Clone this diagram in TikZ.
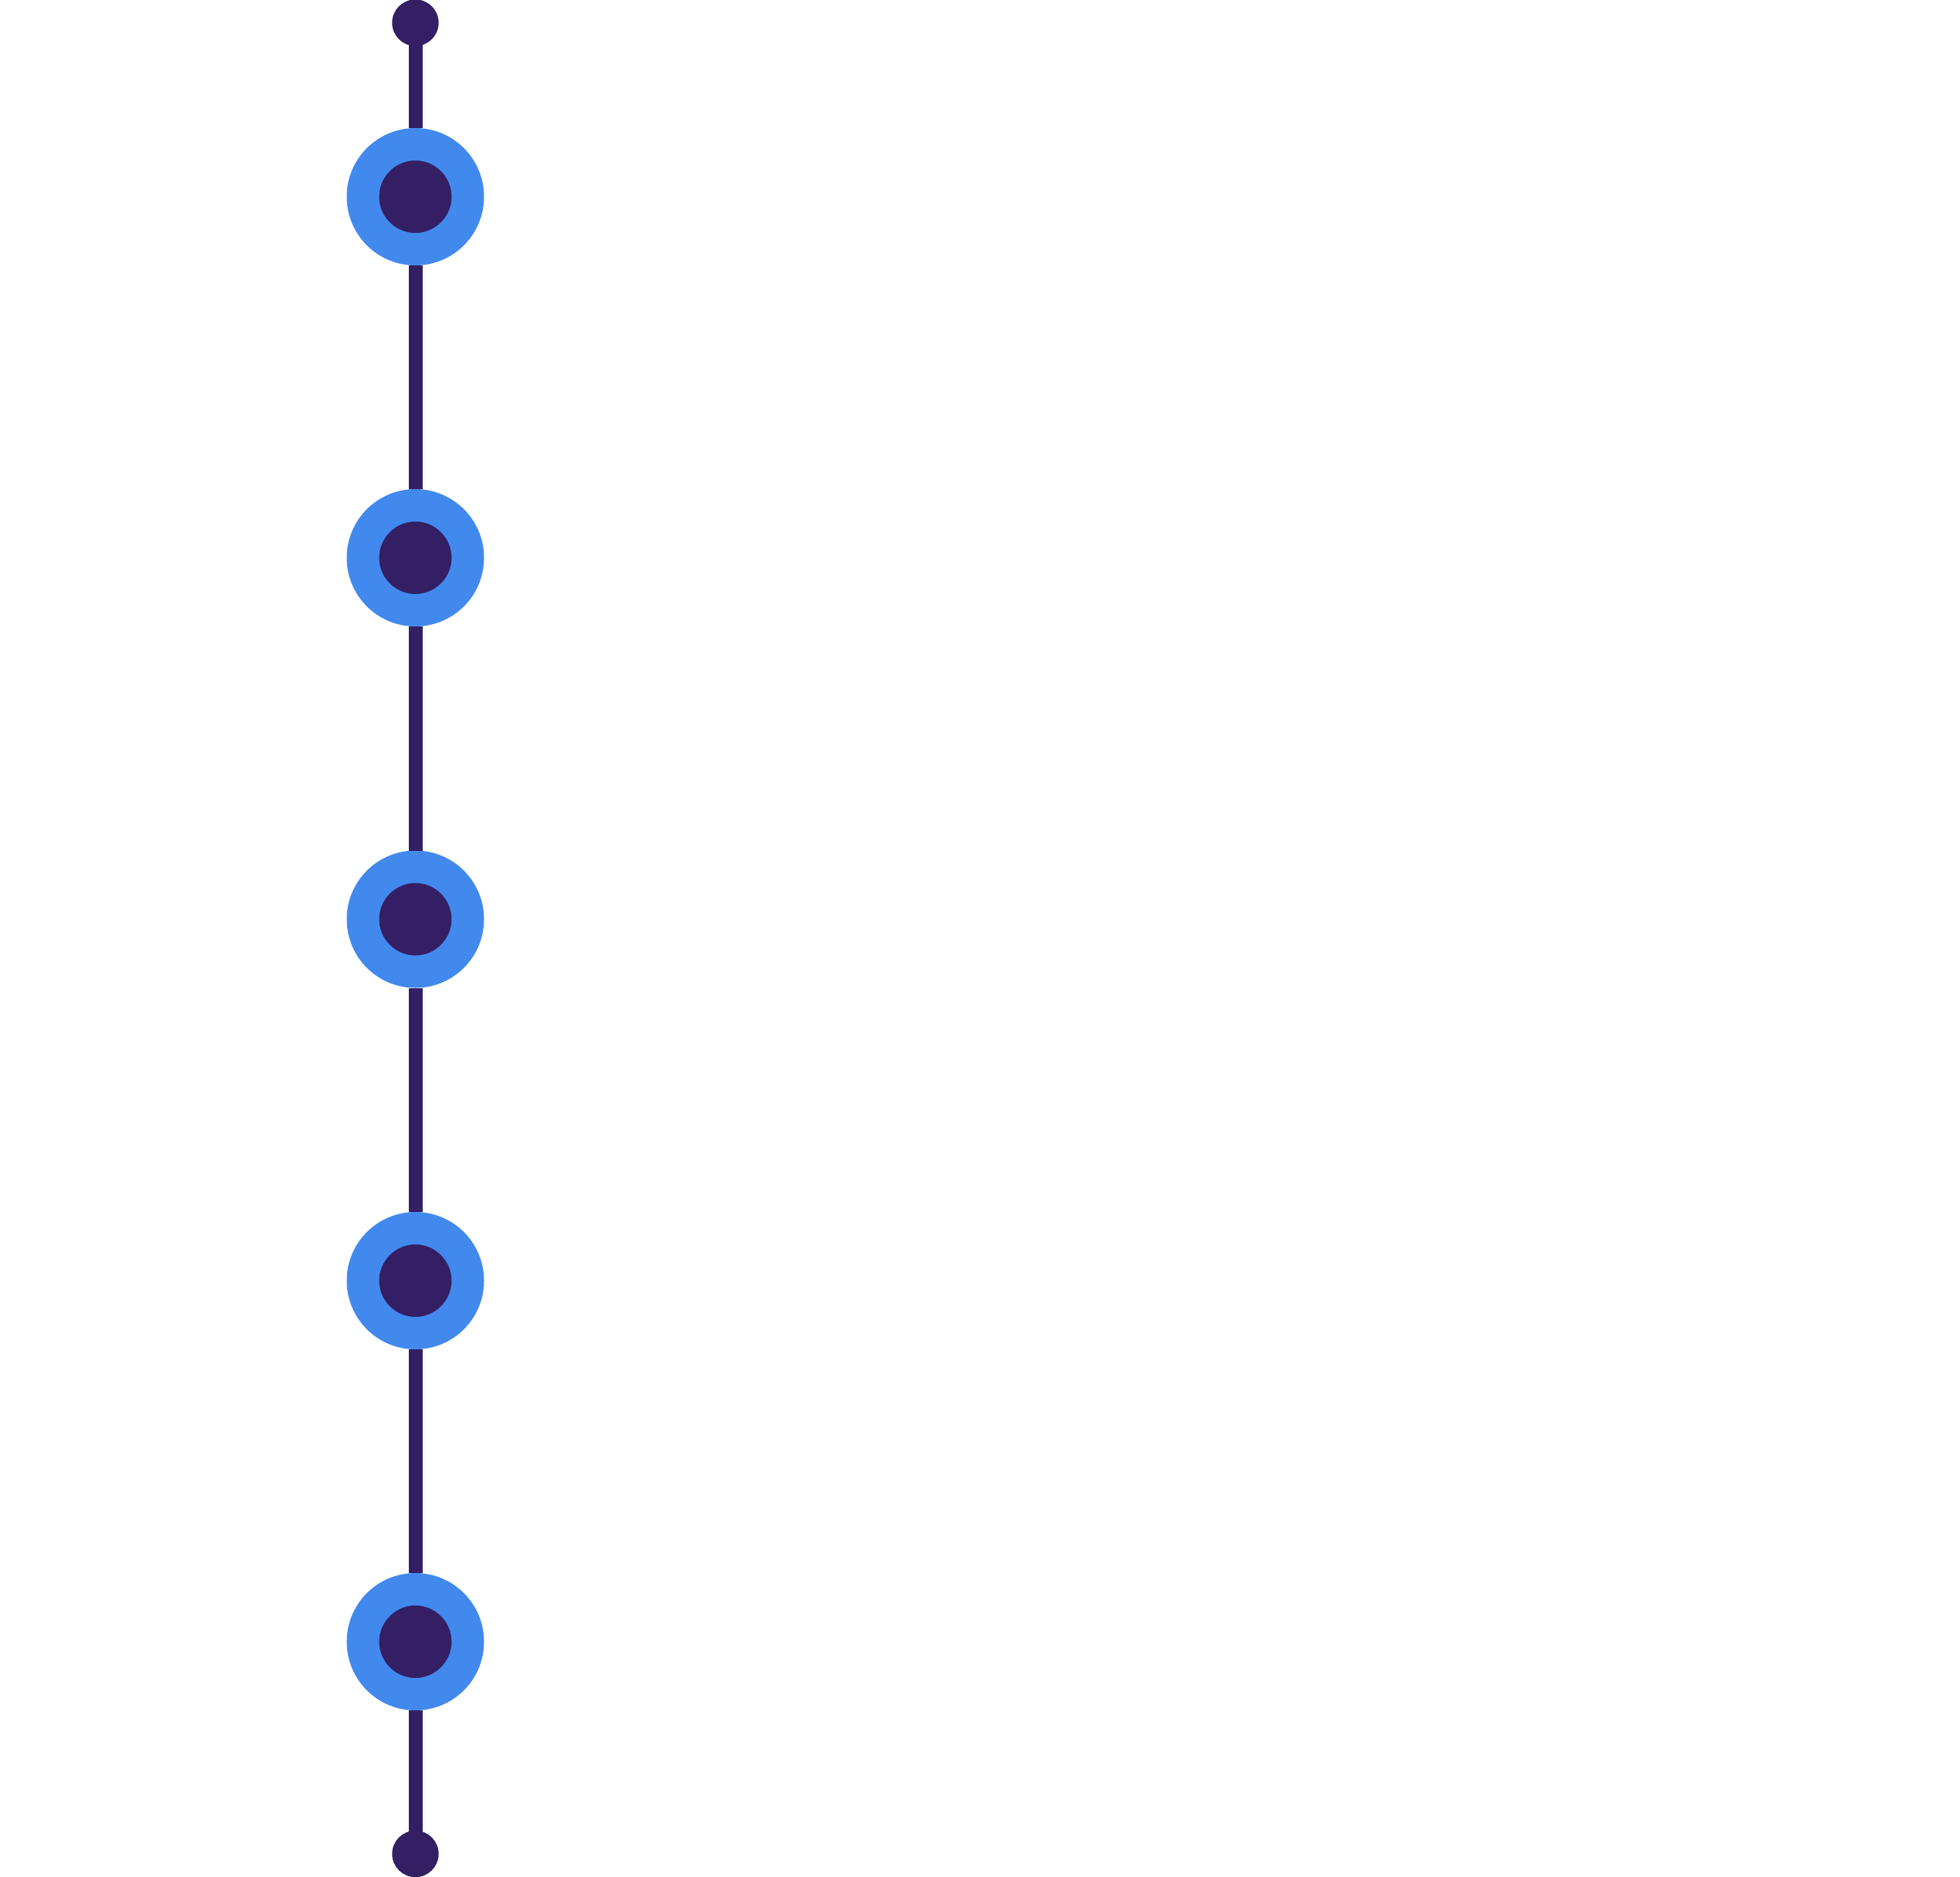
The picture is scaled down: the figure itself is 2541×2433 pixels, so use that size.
\documentclass[tikz,border=0pt]{standalone}
\definecolor{ringblue}{RGB}{66,137,238}
\definecolor{darkpurple}{RGB}{52,31,101}
\tikzset{
  enddot/.style={circle,fill=darkpurple,inner sep=0pt,minimum size=60pt,outer sep=0pt},
  station/.style={circle,fill=darkpurple,draw=ringblue,line width=42pt,inner sep=0pt,minimum size=136pt},
  spine/.style={draw=darkpurple,line width=18pt}
}
\begin{document}
\begin{tikzpicture}[x=1pt,y=-1pt]
\useasboundingbox[fill=white] (0,0) rectangle (2541,2433);
\node[enddot] (top) at (538.5,29.5) {};
\node[station] (s1) at (538.5,255) {};
\node[station] (s2) at (538.5,723) {};
\node[station] (s3) at (538.5,1191.5) {};
\node[station] (s4) at (538.5,1660) {};
\node[station] (s5) at (538.5,2128) {};
\node[enddot] (bot) at (538.5,2403) {};
\path[spine] (top.center) -- (s1);
\path[spine] (s1) -- (s2);
\path[spine] (s2) -- (s3);
\path[spine] (s3) -- (s4);
\path[spine] (s4) -- (s5);
\path[spine] (s5) -- (bot.center);
\node[enddot] at (top) {};
\node[enddot] at (bot) {};
\end{tikzpicture}
\end{document}
